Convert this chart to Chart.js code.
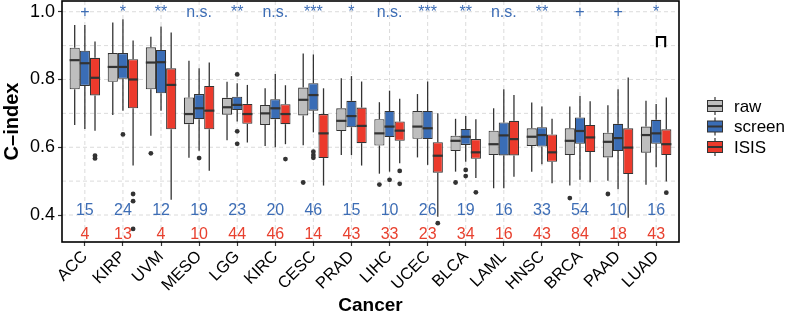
<!DOCTYPE html>
<html><head><meta charset="utf-8">
<script src="https://cdn.jsdelivr.net/npm/chart.js@4.4.1/dist/chart.umd.min.js"></script>
<style>html,body{margin:0;padding:0;background:#fff}</style>
</head><body>
<canvas id="c" width="787" height="323"></canvas>
<script>
const categories = ['ACC','KIRP','UVM','MESO','LGG','KIRC','CESC','PRAD','LIHC','UCEC','BLCA','LAML','HNSC','BRCA','PAAD','LUAD'];
const significance = ['+','*','**','n.s.','**','n.s.','***','*','n.s.','***','**','n.s.','**','+','+','*'];
const screenCounts = [15,24,12,19,23,20,46,15,10,26,19,16,33,54,10,16];
const isisCounts = [4,13,4,10,44,46,14,43,33,23,34,16,43,84,18,43];
const yTicks = [0.4, 0.6, 0.8, 1.0];

// raw C-index: whisker low, Q1, median, Q3, whisker high
const rawLo  = [0.666,0.695,0.634,0.569,0.621,0.604,0.606,0.577,0.522,0.570,0.528,0.479,0.528,0.487,0.501,0.489];
const rawQ1  = [0.771,0.793,0.771,0.668,0.696,0.666,0.694,0.648,0.605,0.625,0.589,0.577,0.604,0.577,0.570,0.584];
const rawMed = [0.857,0.837,0.850,0.698,0.718,0.700,0.740,0.678,0.641,0.661,0.619,0.609,0.631,0.619,0.616,0.636];
const rawQ3  = [0.894,0.878,0.895,0.747,0.746,0.725,0.776,0.715,0.683,0.707,0.634,0.649,0.656,0.656,0.643,0.661];
const rawHi  = [0.961,0.968,0.926,0.855,0.793,0.774,0.877,0.804,0.733,0.757,0.684,0.715,0.732,0.720,0.724,0.737];
const rawOut = [[],[],[0.582],[],[],[],[0.496],[],[0.490],[],[0.496],[],[],[0.450],[0.462],[]];

// screen C-index
const scrLo  = [0.654,0.708,0.708,0.590,0.676,0.600,0.644,0.577,0.528,0.548,0.557,0.479,0.550,0.504,0.476,0.541];
const scrQ1  = [0.781,0.802,0.759,0.683,0.710,0.683,0.708,0.659,0.630,0.624,0.607,0.576,0.602,0.610,0.589,0.610];
const scrMed = [0.848,0.837,0.851,0.715,0.725,0.715,0.754,0.692,0.661,0.656,0.631,0.635,0.636,0.648,0.627,0.641];
const scrQ3  = [0.885,0.878,0.887,0.757,0.749,0.742,0.789,0.737,0.707,0.707,0.654,0.673,0.659,0.688,0.669,0.681];
const scrHi  = [0.961,0.978,0.956,0.833,0.789,0.816,0.874,0.810,0.767,0.794,0.692,0.771,0.720,0.751,0.771,0.728];
const scrOut = [[],[0.638],[],[0.568],[0.815,0.647,0.610],[],[0.587,0.577,0.569],[],[0.504],[],[0.533,0.515],[],[],[],[],[]];

// ISIS C-index
const isisLo  = [0.649,0.546,0.445,0.531,0.614,0.609,0.487,0.546,0.553,0.395,0.509,0.513,0.494,0.497,0.392,0.499];
const isisQ1  = [0.753,0.715,0.653,0.653,0.669,0.668,0.568,0.612,0.619,0.525,0.566,0.576,0.557,0.586,0.521,0.577];
const isisMed = [0.805,0.800,0.784,0.708,0.698,0.698,0.641,0.663,0.649,0.575,0.585,0.624,0.585,0.629,0.599,0.609];
const isisQ3  = [0.864,0.860,0.833,0.781,0.728,0.727,0.698,0.717,0.676,0.615,0.624,0.678,0.638,0.666,0.656,0.653];
const isisHi  = [0.912,0.915,0.939,0.850,0.784,0.783,0.774,0.794,0.743,0.700,0.683,0.754,0.684,0.736,0.806,0.747];
const isisOut = [[0.575,0.567],[0.462,0.441,0.359],[],[],[],[0.565],[],[],[0.530,0.492],[0.376],[0.467],[],[],[],[],[0.466]];

const FONT = "'Liberation Sans', Arial, Helvetica, sans-serif";
const LINE = '#333333';
const BLUE_TXT = '#3d6db5';
const RED_TXT = '#e8412f';

function makeSet(label, color, lo, q1, med, q3, hi, out) {
  return {
    label,
    data: categories.map((c, i) => ({ x: i, y: [q1[i], q3[i]] })),
    backgroundColor: color,
    borderColor: LINE,
    borderWidth: 1.1,
    borderSkipped: false,
    categoryPercentage: 0.8,
    barPercentage: 1.0,
    stats: { lo, med, hi, out }
  };
}

const datasets = [
  makeSet('raw', '#bebebe', rawLo, rawQ1, rawMed, rawQ3, rawHi, rawOut),
  makeSet('screen', '#3a6db6', scrLo, scrQ1, scrMed, scrQ3, scrHi, scrOut),
  makeSet('ISIS', '#ec3a2c', isisLo, isisQ1, isisMed, isisQ3, isisHi, isisOut)
];

function seg(ctx, x1, y1, x2, y2) {
  ctx.beginPath(); ctx.moveTo(x1, y1); ctx.lineTo(x2, y2); ctx.stroke();
}

const boxPlot = {
  id: 'boxPlot',
  beforeDatasetsDraw(chart) {
    const { ctx, chartArea: a, scales: { x, y } } = chart;
    ctx.save();
    // dashed panel grid
    ctx.strokeStyle = '#d2d2d2';
    ctx.lineWidth = 0.8;
    ctx.setLineDash([4, 3]);
    for (let k = 4; k <= 10; k++) {
      const py = y.getPixelForValue(k / 10);
      seg(ctx, a.left, py, a.right, py);
    }
    categories.forEach((c, i) => {
      const px = x.getPixelForValue(i);
      seg(ctx, px, a.top, px, a.bottom);
    });
    ctx.setLineDash([]);
    // whiskers
    ctx.strokeStyle = LINE;
    ctx.lineWidth = 1.3;
    chart.data.datasets.forEach((ds, di) => {
      const meta = chart.getDatasetMeta(di);
      const s = ds.stats;
      meta.data.forEach((bar, i) => {
        const [q1, q3] = ds.data[i].y;
        seg(ctx, bar.x, y.getPixelForValue(s.lo[i]), bar.x, y.getPixelForValue(q1));
        seg(ctx, bar.x, y.getPixelForValue(q3), bar.x, y.getPixelForValue(s.hi[i]));
      });
    });
    ctx.restore();
  },
  afterDatasetsDraw(chart) {
    const { ctx, scales: { x, y } } = chart;
    ctx.save();
    chart.data.datasets.forEach((ds, di) => {
      const meta = chart.getDatasetMeta(di);
      const s = ds.stats;
      meta.data.forEach((bar, i) => {
        const half = bar.width / 2;
        ctx.strokeStyle = LINE;
        ctx.lineWidth = 2.2;
        const my = y.getPixelForValue(s.med[i]);
        seg(ctx, bar.x - half, my, bar.x + half, my);
        ctx.fillStyle = LINE;
        s.out[i].forEach(v => {
          ctx.beginPath();
          ctx.arc(bar.x, y.getPixelForValue(v), 2.4, 0, Math.PI * 2);
          ctx.fill();
        });
      });
    });
    // significance and sample counts
    ctx.textAlign = 'center';
    ctx.textBaseline = 'middle';
    categories.forEach((c, i) => {
      const px = x.getPixelForValue(i);
      ctx.font = `16px ${FONT}`;
      ctx.fillStyle = BLUE_TXT;
      ctx.fillText(significance[i], px, y.getPixelForValue(0.997));
      ctx.fillText(String(screenCounts[i]), px, y.getPixelForValue(0.414));
      ctx.fillStyle = RED_TXT;
      ctx.fillText(String(isisCounts[i]), px, y.getPixelForValue(0.342));
    });
    // bracket mark beside LUAD
    ctx.fillStyle = '#000';
    ctx.font = `bold 18px 'DejaVu Sans', sans-serif`;
    ctx.fillText('\u2293', x.getPixelForValue(15.13), y.getPixelForValue(0.911));
    ctx.restore();
  },
  afterDraw(chart) {
    const { ctx, chartArea: a } = chart;
    ctx.save();
    // panel frame
    ctx.strokeStyle = '#000';
    ctx.lineWidth = 1.6;
    ctx.strokeRect(a.left, a.top, a.right - a.left, a.bottom - a.top);
    // legend with boxplot keys
    const kx = 715, kw = 15;
    const rows = [106, 126.5, 147];
    chart.data.datasets.forEach((ds, di) => {
      const cy = rows[di];
      ctx.strokeStyle = LINE;
      ctx.lineWidth = 1.2;
      seg(ctx, kx, cy - 9, kx, cy + 9);
      ctx.fillStyle = ds.backgroundColor;
      ctx.fillRect(kx - kw / 2, cy - 5.5, kw, 11);
      ctx.lineWidth = 1;
      ctx.strokeRect(kx - kw / 2, cy - 5.5, kw, 11);
      ctx.lineWidth = 2;
      seg(ctx, kx - kw / 2, cy, kx + kw / 2, cy);
      ctx.fillStyle = '#000';
      ctx.font = `17px ${FONT}`;
      ctx.textAlign = 'left';
      ctx.textBaseline = 'middle';
      ctx.fillText(ds.label, 734, cy + 1);
    });
    ctx.restore();
  }
};

new Chart(document.getElementById('c'), {
  type: 'bar',
  data: { datasets },
  plugins: [boxPlot],
  options: {
    responsive: false,
    animation: false,
    devicePixelRatio: 1,
    layout: { padding: { left: 0, top: 1, right: 108, bottom: 0 } },
    plugins: { legend: { display: false }, tooltip: { enabled: false } },
    scales: {
      x: {
        type: 'linear',
        offset: false,
        min: -0.6,
        max: 15.6,
        afterBuildTicks: s => { s.ticks = categories.map((c, i) => ({ value: i })); },
        afterFit: s => { s.height = 81; s.paddingLeft = 0; s.paddingRight = 0; },
        ticks: {
          callback: v => categories[v],
          autoSkip: false,
          minRotation: 45,
          maxRotation: 45,
          color: '#000',
          padding: 1,
          font: { family: FONT, size: 16.5 }
        },
        grid: { offset: false, drawOnChartArea: false, tickLength: 4, tickColor: LINE, tickWidth: 1.2 },
        border: { display: false },
        title: { display: true, text: 'Cancer', color: '#000', font: { family: FONT, size: 19, weight: 'bold' }, padding: { top: 0, bottom: 6 } }
      },
      y: {
        type: 'linear',
        min: 0.3204,
        max: 1.0316,
        afterBuildTicks: s => { s.ticks = yTicks.map(v => ({ value: v })); },
        afterFit: s => { s.width = 62; s.paddingTop = 0; s.paddingBottom = 0; },
        ticks: {
          callback: v => v.toFixed(1),
          color: '#000',
          padding: 3,
          font: { family: FONT, size: 18 }
        },
        grid: { drawOnChartArea: false, tickLength: 4, tickColor: LINE, tickWidth: 1.2 },
        border: { display: false },
        title: { display: true, text: 'C\u2013index', color: '#000', font: { family: FONT, size: 20, weight: 'bold' }, padding: { top: 0, bottom: 1 } }
      }
    }
  }
});
</script>
</body></html>
